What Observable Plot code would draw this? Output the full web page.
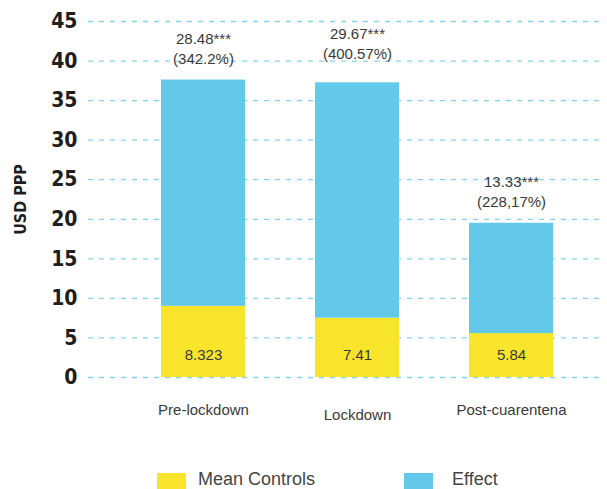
<!DOCTYPE html>
<html>
<head>
<meta charset="utf-8">
<script src="https://cdn.jsdelivr.net/npm/d3@7"></script>
<script src="https://cdn.jsdelivr.net/npm/@observablehq/plot@0.6"></script>
<style>
  html, body { margin: 0; padding: 0; background: #fff; }
  #wrap { position: relative; width: 607px; height: 489px; overflow: hidden; }
  .legend { position: absolute; top: 465px; left: 0; width: 607px; height: 24px;
            font-family: "Liberation Sans", Arial, sans-serif; font-size: 18px; color: #444; }
  .legend .sw { position: absolute; top: 8px; width: 29px; height: 16px; }
  .legend .lb { position: absolute; top: 4px; line-height: 20px; }
  .cond text { font-stretch: condensed; }
</style>
</head>
<body>
<div id="wrap"></div>
<script>
// ---- data ----
const phases = ["Pre-lockdown", "Lockdown", "Post-cuarentena"];
const seriesNames = ["Mean Controls", "Effect"];
// bar heights as drawn in the reference
const controls = [9.0, 7.5, 5.55];
const effects = [28.6, 29.75, 13.95];
// printed labels
const controlLabels = ["8.323", "7.41", "5.84"];
const effectLabels = ["28.48***\n(342.2%)", "29.67***\n(400.57%)", "13.33***\n(228,17%)"];
const yTicks = [0, 5, 10, 15, 20, 25, 30, 35, 40, 45];
const yLabel = "USD PPP";
const colors = ["#F8E52B", "#63C9EA"];

const rows = [];
phases.forEach((p, i) => {
  rows.push({phase: p, series: seriesNames[0], value: controls[i]});
  rows.push({phase: p, series: seriesNames[1], value: effects[i]});
});
const tops = phases.map((p, i) => ({phase: p, total: controls[i] + effects[i], label: effectLabels[i]}));
const bottoms = phases.map((p, i) => ({phase: p, label: controlLabels[i]}));

const textFont = "'Liberation Sans', Arial, sans-serif";
const boldFont = "'Liberation Sans Narrow', 'DejaVu Sans Condensed', sans-serif";

const chart = Plot.plot({
  width: 607,
  height: 465,
  marginTop: 21,
  marginBottom: 88,
  marginLeft: 88,
  marginRight: 7,
  style: {fontFamily: textFont, background: "#fff", overflow: "visible"},
  x: {domain: phases, paddingInner: 0.4516, paddingOuter: 0.3776, align: 0.607, axis: null},
  y: {domain: [0, 45], axis: null},
  color: {domain: seriesNames, range: colors},
  marks: [
    Plot.gridY(yTicks, {stroke: "#84d3ee", strokeOpacity: 1, strokeWidth: 1.3, strokeDasharray: "5,6"}),
    Plot.axisY(yTicks, {tickSize: 0, tickPadding: 11, label: null, fontSize: 21, fontWeight: "bold",
      fontFamily: boldFont, fill: "#1e1e1e", className: "cond"}),
    Plot.text([yLabel], {frameAnchor: "left", textAnchor: "middle", rotate: -90, dx: -68, fontSize: 16,
      fontWeight: "bold", fontFamily: boldFont, fill: "#1e1e1e"}),
    Plot.barY(rows, {x: "phase", y: "value", fill: "series", order: seriesNames}),
    Plot.text(tops, {filter: (d) => d.phase !== phases[1], x: "phase", y: "total", text: "label",
      lineAnchor: "bottom", dy: -16, fontSize: 15, lineHeight: 1.33, fill: "#3a3a3a"}),
    Plot.text(tops, {filter: (d) => d.phase === phases[1], x: "phase", y: "total", text: "label",
      lineAnchor: "bottom", dy: -24, fontSize: 15, lineHeight: 1.33, fill: "#3a3a3a"}),
    Plot.text(bottoms, {x: "phase", y: 0, text: "label", dy: -22, fontSize: 15, fill: "#3a3a3a"}),
    Plot.axisX({ticks: [phases[0], phases[2]], tickSize: 0, tickPadding: 27, label: null, fontSize: 15, fill: "#3a3a3a"}),
    Plot.axisX({ticks: [phases[1]], tickSize: 0, tickPadding: 32, label: null, fontSize: 15, fill: "#3a3a3a"})
  ]
});

const wrap = document.getElementById("wrap");
wrap.appendChild(chart);

const legend = document.createElement("div");
legend.className = "legend";
const legendPos = [{sw: 157, lb: 198}, {sw: 404, lb: 452}];
seriesNames.forEach((name, i) => {
  const sw = document.createElement("div");
  sw.className = "sw";
  sw.style.left = legendPos[i].sw + "px";
  sw.style.background = colors[i];
  const lb = document.createElement("div");
  lb.className = "lb";
  lb.style.left = legendPos[i].lb + "px";
  lb.textContent = name;
  legend.appendChild(sw);
  legend.appendChild(lb);
});
wrap.appendChild(legend);
</script>
</body>
</html>
